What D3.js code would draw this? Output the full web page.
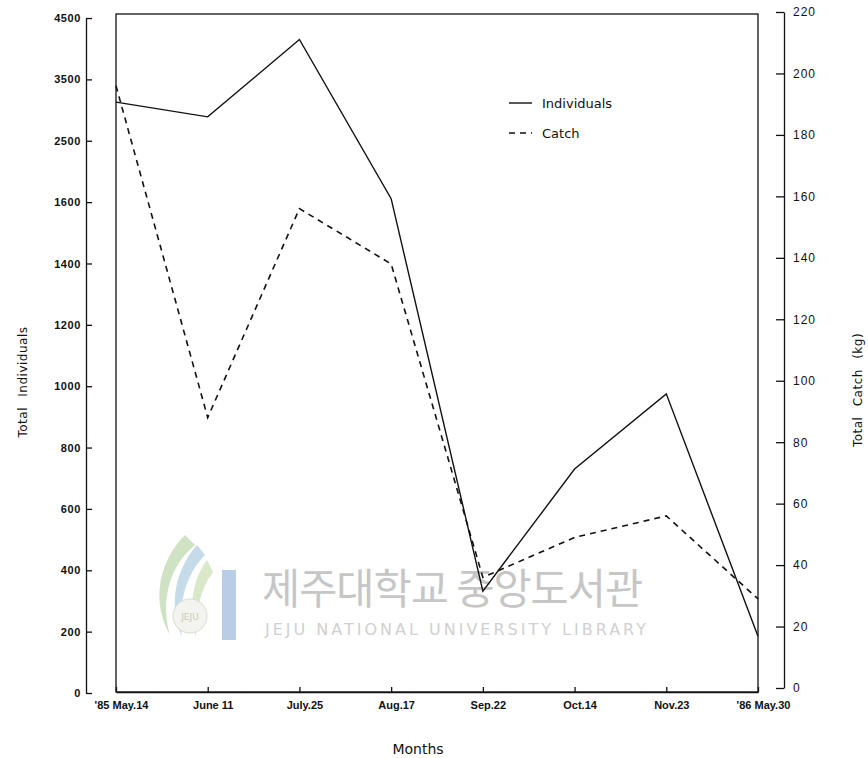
<!DOCTYPE html>
<html>
<head>
<meta charset="utf-8">
<script src="https://cdn.jsdelivr.net/npm/d3@7"></script>
<style>
  body { margin: 0; background: #fff; }
  svg { display: block; }
  .tick text { fill: #111; }
</style>
</head>
<body>
<div id="chart"></div>
<script>
// ---- data ----
const months = ["'85 May.14", "June 11", "July.25", "Aug.17", "Sep.22", "Oct.14", "Nov.23", "'86 May.30"];
const individuals = [3130, 2890, 4150, 1650, 332, 730, 975, 185];
const catchKg = [196, 88, 156, 138, 36, 49, 56, 29];
const leftTicks = [0, 200, 400, 600, 800, 1000, 1200, 1400, 1600, 2500, 3500, 4500];
const leftBreaks = [0, 1600, 2500, 3500, 4500];
const rightTicks = [0, 20, 40, 60, 80, 100, 120, 140, 160, 180, 200, 220];
const legendItems = [
  { label: "Individuals", dash: null },
  { label: "Catch", dash: "6,5" }
];

const W = 868, H = 758;
const svg = d3.select("#chart").append("svg").attr("width", W).attr("height", H)
  .style("font-family", "'DejaVu Sans', sans-serif");
svg.append("rect").attr("width", W).attr("height", H).attr("fill", "#fff");

const frame = { left: 116, right: 758, top: 14, bottom: 692 };
const lBottom = 693, lStep = 61.36;

const x = d3.scalePoint().domain(months).range([frame.left, frame.right]);
const yL = d3.scaleLinear().domain(leftBreaks)
  .range([lBottom, lBottom - 8 * lStep, lBottom - 9 * lStep, lBottom - 10 * lStep, lBottom - 11 * lStep]);
const yR = d3.scaleLinear().domain([0, 220]).range([688, 12]);

// ---- watermark ----
const wm = svg.append("g").attr("class", "watermark");
wm.append("path").attr("d", "M185,535 C160,560 150,600 170,635 C160,600 170,565 195,545 Z").attr("fill", "#cfe3c4");
wm.append("path").attr("d", "M197,545 C175,570 168,605 182,637 C178,605 185,575 205,555 Z").attr("fill", "#c6dbe9");
wm.append("path").attr("d", "M207,560 C192,580 188,610 196,637 C196,610 200,590 213,572 Z").attr("fill", "#d9e8c9");
wm.append("circle").attr("cx", 190).attr("cy", 616).attr("r", 17).attr("fill", "#f3f3ef").attr("stroke", "#dcdcd0");
wm.append("text").attr("x", 190).attr("y", 620).attr("text-anchor", "middle").attr("font-size", 9).attr("fill", "#c9c9b8").text("JEJU");
wm.append("rect").attr("x", 222).attr("y", 570).attr("width", 14).attr("height", 70).attr("fill", "#b9cde6");
wm.append("text").attr("x", 262).attr("y", 604)
  .style("font-family", "'Noto Sans CJK KR', sans-serif")
  .attr("font-size", 41.5).attr("fill", "#c6c6c6").attr("letter-spacing", "-1")
  .text("제주대학교 중앙도서관");
wm.append("text").attr("x", 265).attr("y", 635)
  .attr("font-size", 16).attr("fill", "#d0d0d0").attr("letter-spacing", "3")
  .text("JEJU NATIONAL UNIVERSITY LIBRARY");

// ---- frame ----
svg.append("rect").attr("x", frame.left).attr("y", frame.top)
  .attr("width", frame.right - frame.left).attr("height", frame.bottom - frame.top)
  .attr("fill", "none").attr("stroke", "#111").attr("stroke-width", 1.3);

// ---- axes ----
const gL = svg.append("g").attr("transform", "translate(86,0)")
  .call(d3.axisLeft(yL).tickValues(leftTicks).tickSizeInner(-6).tickSizeOuter(0).tickPadding(5).tickFormat(d3.format("d")));
gL.selectAll("text").attr("font-size", 11).attr("letter-spacing", "0.6").attr("font-weight", "bold").attr("fill", "#111");

const gR = svg.append("g").attr("transform", "translate(784,0)")
  .call(d3.axisRight(yR).tickValues(rightTicks).tickSizeInner(-8).tickSizeOuter(0).tickPadding(9));
gR.selectAll("text").attr("font-size", 12).attr("letter-spacing", "1").attr("fill", "#111");

const gB = svg.append("g").attr("transform", `translate(0,${frame.bottom})`)
  .call(d3.axisBottom(x).tickSizeInner(-5).tickSizeOuter(0).tickPadding(9));
gB.selectAll("text").attr("font-size", 11).attr("font-weight", "bold").attr("dx", 5).attr("fill", "#111");

[gL, gR, gB].forEach(g => {
  g.selectAll("path.domain").attr("stroke", "#111").attr("stroke-width", 1.3);
  g.selectAll(".tick line").attr("stroke", "#111").attr("stroke-width", 1.3);
});

// ---- axis titles ----
svg.append("text").attr("transform", "translate(27,382) rotate(-90)")
  .attr("text-anchor", "middle").attr("font-size", 12).attr("letter-spacing", "0.5")
  .attr("word-spacing", "6").attr("fill", "#111").text("Total Individuals");
svg.append("text").attr("transform", "translate(862,390) rotate(-90)")
  .attr("text-anchor", "middle").attr("font-size", 12).attr("letter-spacing", "0.5")
  .attr("word-spacing", "6").attr("fill", "#111").text("Total Catch (kg)");
svg.append("text").attr("x", 418).attr("y", 754).attr("text-anchor", "middle")
  .attr("font-size", 14).attr("fill", "#111").text("Months");

// ---- lines ----
const lineL = d3.line().x((d, i) => x(months[i])).y(d => yL(d));
const lineR = d3.line().x((d, i) => x(months[i])).y(d => yR(d));

svg.append("path").datum(individuals).attr("d", lineL)
  .attr("fill", "none").attr("stroke", "#111").attr("stroke-width", 1.4);
svg.append("path").datum(catchKg).attr("d", lineR)
  .attr("fill", "none").attr("stroke", "#111").attr("stroke-width", 1.6)
  .attr("stroke-dasharray", "6,5");

// ---- legend ----
const lg = svg.append("g").attr("transform", "translate(509,103)");
legendItems.forEach((it, i) => {
  const g = lg.append("g").attr("transform", `translate(0,${i * 30})`);
  g.append("line").attr("x1", 0).attr("x2", 23).attr("y1", 0).attr("y2", 0)
    .attr("stroke", "#111").attr("stroke-width", 1.4)
    .attr("stroke-dasharray", it.dash);
  g.append("text").attr("x", 33).attr("y", 5).attr("font-size", 13).attr("fill", "#111").text(it.label);
});
</script>
</body>
</html>
